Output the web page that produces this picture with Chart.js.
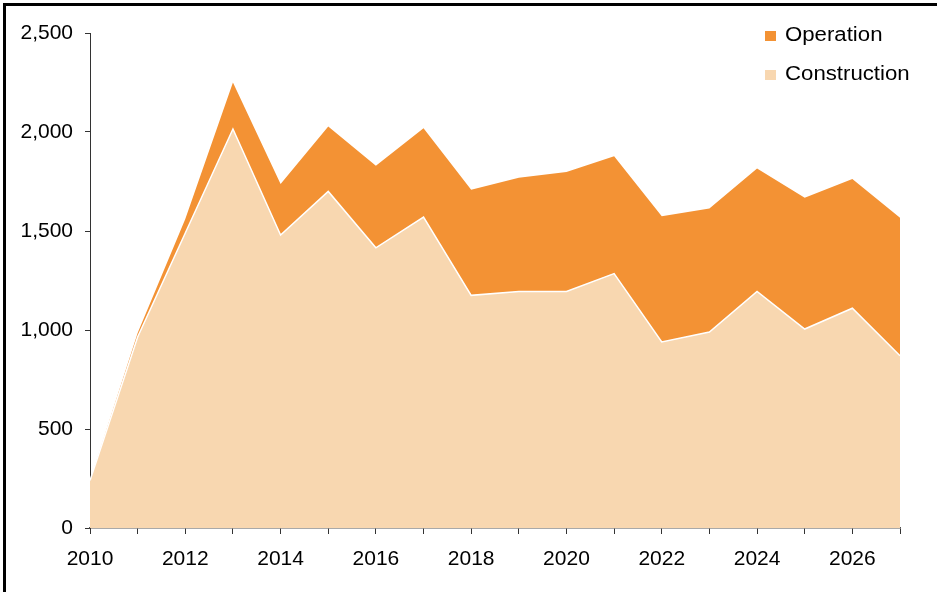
<!DOCTYPE html>
<html>
<head>
<meta charset="utf-8">
<script src="https://cdn.jsdelivr.net/npm/chart.js@4"></script>
<style>
  html, body { margin: 0; padding: 0; background: #fff; }
  #wrap { width: 937px; height: 592px; position: relative; }
</style>
</head>
<body>
<div id="wrap"><canvas id="chart" width="937" height="592"></canvas></div>
<script>
const years = ['2010', '2011', '2012', '2013', '2014', '2015', '2016', '2017', '2018',
  '2019', '2020', '2021', '2022', '2023', '2024', '2025', '2026', '2027']
const construction = [240, 965, 1490, 2015, 1480, 1700, 1415, 1570, 1175,
  1195, 1195, 1285, 940, 990, 1195, 1005, 1110, 870]
const operation = [0, 20, 70, 235, 258, 328, 414, 449, 533,
  574, 603, 592, 635, 624, 621, 663, 653, 697]
const yTicks = [0, 500, 1000, 1500, 2000, 2500]

const FONT = 'Liberation Sans, Arial, sans-serif'

// frame on the top and left edges, plus the legend in the top right corner
const frameAndLegend = {
  id: 'frameAndLegend',
  afterDraw(chart) {
    const ctx = chart.ctx
    ctx.save()
    ctx.fillStyle = '#000'
    ctx.fillRect(3, 3, 934, 3)
    ctx.fillRect(3, 3, 3, 589)

    const items = [chart.data.datasets[1], chart.data.datasets[0]]
    ctx.font = '20px ' + FONT
    ctx.textBaseline = 'alphabetic'
    items.forEach((ds, i) => {
      const y = 41 + i * 39
      ctx.fillStyle = ds.backgroundColor
      ctx.fillRect(765, y - 10, 11, 10)
      ctx.fillStyle = '#000'
      ctx.save()
      ctx.translate(785, y)
      ctx.scale(1.11, 1)
      ctx.fillText(ds.label, 0, 0)
      ctx.restore()
    })
    ctx.restore()
  }
}

const ctx = document.getElementById('chart').getContext('2d')
const myChart = new Chart(ctx, {
  type: 'line',
  data: {
    labels: years,
    datasets: [{
      label: 'Construction',
      data: construction,
      backgroundColor: '#F8D7B0',
      borderColor: '#ffffff',
      borderWidth: 1.5,
      fill: 'origin',
      pointRadius: 0,
      tension: 0
    }, {
      label: 'Operation',
      data: operation,
      backgroundColor: '#F39234',
      borderColor: 'rgba(0,0,0,0)',
      borderWidth: 0,
      fill: '-1',
      pointRadius: 0,
      tension: 0
    }]
  },
  options: {
    responsive: false,
    animation: false,
    layout: { padding: { top: 33, right: 37, left: 0, bottom: 0 } },
    plugins: { legend: { display: false }, tooltip: { enabled: false } },
    scales: {
      x: {
        offset: false,
        grid: { display: true, drawOnChartArea: false, drawTicks: true, tickLength: 6, color: '#333', lineWidth: 1 },
        border: { display: true, color: '#555', width: 1.5 },
        ticks: {
          autoSkip: false,
          maxRotation: 0,
          padding: 13,
          color: '#000',
          font: { family: FONT, size: 21 },
          callback: function (val, i) { return (i % 2 === 0 && i < years.length - 1) ? years[i] : '' }
        },
        afterFit(scale) { scale.height = 64 }
      },
      y: {
        stacked: true,
        min: 0,
        max: 2500,
        afterBuildTicks(scale) { scale.ticks = yTicks.map(v => ({ value: v })) },
        grid: { display: true, drawOnChartArea: false, drawTicks: true, tickLength: 5, color: '#333', lineWidth: 1 },
        border: { display: true, color: '#333', width: 1 },
        ticks: {
          padding: 12,
          color: '#000',
          font: { family: FONT, size: 21 },
          callback: v => v.toLocaleString('en-US')
        },
        afterFit(scale) { scale.width = 90 }
      }
    }
  },
  plugins: [frameAndLegend]
})
</script>
</body>
</html>
